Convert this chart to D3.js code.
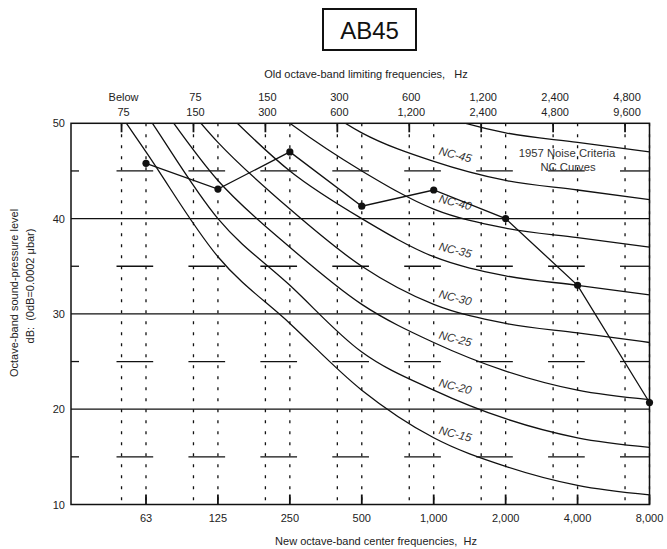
<!DOCTYPE html>
<html><head><meta charset="utf-8">
<script src="https://cdn.jsdelivr.net/npm/d3@7"></script>
<style>
html,body{margin:0;padding:0;background:#fff;}
svg{display:block;font-family:"Liberation Sans",Arial,Helvetica,sans-serif;}
</style></head><body>
<svg id="chart" width="667" height="549"></svg>
<script>
// ---------- data ----------
const centerLabels = ["63","125","250","500","1,000","2,000","4,000","8,000"];
const oldBandTop    = ["Below","75","150","300","600","1,200","2,400","4,800"];
const oldBandBottom = ["75","150","300","600","1,200","2,400","4,800","9,600"];
const yTicks = [10,20,30,40,50];
const yGridLines = [20,30,40];
const yMinorTicks = [15,25,35,45];

const ncNames = ["NC-15","NC-20","NC-25","NC-30","NC-35","NC-40","NC-45","NC-50"];
const nc15 = [47,36,29,22,17,14,12,11];
const nc20 = [51,40,33,26,22,19,17,16];
const nc25 = [54,44,37,31,27,24,22,21];
const nc30 = [57,48,41,35,31,29,28,27];
const nc35 = [60,52,45,40,36,34,33,32];
const nc40 = [64,56,50,45,41,39,38,37];
const nc45 = [67,60,54,49,46,44,43,42];
const nc50 = [71,64,58,54,51,49,48,47];
const ncLabelled = ["NC-15","NC-20","NC-25","NC-30","NC-35","NC-40","NC-45"];

const measured = [45.8,43.1,47.0,41.3,43.0,40.0,33.0,20.7];

const titleText = "AB45";
const topTitle = "Old octave-band limiting frequencies,   Hz";
const bottomTitle = "New octave-band center frequencies,  Hz";
const yTitle1 = "Octave-band sound-pressure level";
const yTitle2 = "dB:  (0dB=0.0002 \u03BCbar)";
const legend1 = "1957 Noise Criteria";
const legend2 = "NC Curves";

// ---------- layout ----------
const L = 71, R = 649.5, T = 123.3, B = 504.5;
const oldOff = -0.34;         // old band limit line offset (in octaves)
const svg = d3.select("#chart");
const x = d3.scaleLinear().domain([0,7]).range([146, R]);
const y = d3.scaleLinear().domain([10,50]).range([B, T]);
const idx = d3.range(centerLabels.length);
const ink = "#111", txt = "#222";

// title box
svg.append("rect").attr("x",323).attr("y",9).attr("width",93).attr("height",41)
  .attr("fill","none").attr("stroke",ink).attr("stroke-width",2);
svg.append("text").attr("x",369.5).attr("y",30).attr("text-anchor","middle")
  .attr("dominant-baseline","central").attr("font-size",24).attr("fill",ink).text(titleText);

// clip
svg.append("defs").append("clipPath").attr("id","plotclip")
  .append("rect").attr("x",L).attr("y",T).attr("width",R-L).attr("height",B-T);

const g = svg.append("g");

// vertical dotted lines (centers and old band limits)
idx.forEach(i => {
  [i, i+oldOff].forEach(t => {
    g.append("line").attr("x1",x(t)).attr("x2",x(t)).attr("y1",T).attr("y2",B)
      .attr("stroke",ink).attr("stroke-width",1.3).attr("stroke-dasharray","3,8");
  });
});

// horizontal grid lines
yGridLines.forEach(v => {
  g.append("line").attr("x1",L).attr("x2",R).attr("y1",y(v)).attr("y2",y(v))
    .attr("stroke",ink).attr("stroke-width",1.3);
});
// minor dashes
yMinorTicks.forEach(v => {
  g.append("line").attr("x1",L).attr("x2",L+8).attr("y1",y(v)).attr("y2",y(v))
    .attr("stroke",ink).attr("stroke-width",1.3);
  idx.forEach(i => {
    g.append("line").attr("x1",x(i-0.41)).attr("x2",Math.min(R,x(i+0.1)))
      .attr("y1",y(v)).attr("y2",y(v)).attr("stroke",ink).attr("stroke-width",1.3);
  });
});

// NC curves
const allNC = [nc15,nc20,nc25,nc30,nc35,nc40,nc45,nc50];
const line = d3.line().x(d=>x(d[0])).y(d=>y(d[1])).curve(d3.curveMonotoneX);
const cg = svg.append("g").attr("clip-path","url(#plotclip)");
allNC.forEach(arr => {
  const pts = arr.map((v,i)=>[i,v]);
  pts.unshift([-1, 2*arr[0]-arr[1]]);   // continue first segment to the frame
  cg.append("path").attr("d",line(pts)).attr("fill","none")
    .attr("stroke",ink).attr("stroke-width",1.3);
});

// NC labels
const labT = 4.3;
ncLabelled.forEach(name => {
  const arr = allNC[ncNames.indexOf(name)];
  const v = arr[4] + (labT-4)*(arr[5]-arr[4]) + 1.3;
  svg.append("text").attr("transform",`translate(${x(labT)},${y(v)}) rotate(14)`)
    .attr("text-anchor","middle").attr("dominant-baseline","central")
    .attr("font-size",11.5).attr("font-style","italic").attr("fill","#333").text(name);
});

// legend text
svg.append("text").attr("x",567).attr("y",152.5).attr("text-anchor","middle")
  .attr("dominant-baseline","central").attr("font-size",11.3).attr("fill","#333").text(legend1);
svg.append("text").attr("x",568).attr("y",167).attr("text-anchor","middle")
  .attr("dominant-baseline","central").attr("font-size",11.3).attr("fill","#333").text(legend2);

// measured data
const dline = d3.line().x((d,i)=>x(i)).y(d=>y(d));
svg.append("path").attr("d",dline(measured)).attr("fill","none")
  .attr("stroke",ink).attr("stroke-width",1.3);
svg.selectAll("circle.pt").data(measured).enter().append("circle")
  .attr("cx",(d,i)=>x(i)).attr("cy",d=>y(d)).attr("r",3.6).attr("fill",ink);

// frame
svg.append("rect").attr("x",L).attr("y",T).attr("width",R-L).attr("height",B-T)
  .attr("fill","none").attr("stroke",ink).attr("stroke-width",1.5);

// bottom ticks at centers, top ticks at old limits
idx.forEach(i => {
  svg.append("line").attr("x1",x(i)).attr("x2",x(i)).attr("y1",B).attr("y2",B-10)
    .attr("stroke",ink).attr("stroke-width",1.8);
  svg.append("line").attr("x1",x(i+oldOff)).attr("x2",x(i+oldOff)).attr("y1",T).attr("y2",T+9)
    .attr("stroke",ink).attr("stroke-width",1.8);
});

// y tick labels
yTicks.forEach(v => {
  svg.append("text").attr("x",65).attr("y",y(v)).attr("text-anchor","end")
    .attr("dominant-baseline","central").attr("font-size",11).attr("fill",txt).text(v);
});

// bottom labels
centerLabels.forEach((s,i) => {
  svg.append("text").attr("x",x(i)).attr("y",518).attr("text-anchor","middle")
    .attr("dominant-baseline","central").attr("font-size",11).attr("fill",txt).text(s);
});
// top labels
idx.forEach(i => {
  const cx = x(i+oldOff)+2;
  svg.append("text").attr("x",cx).attr("y",97).attr("text-anchor","middle")
    .attr("dominant-baseline","central").attr("font-size",11).attr("fill",txt).text(oldBandTop[i]);
  svg.append("text").attr("x",cx).attr("y",112).attr("text-anchor","middle")
    .attr("dominant-baseline","central").attr("font-size",11).attr("fill",txt).text(oldBandBottom[i]);
});

// axis titles
svg.append("text").attr("x",366).attr("y",73.5).attr("text-anchor","middle")
  .attr("dominant-baseline","central").attr("font-size",11).attr("fill",txt)
  .attr("xml:space","preserve").style("white-space","pre").text(topTitle);
svg.append("text").attr("x",376).attr("y",541).attr("text-anchor","middle")
  .attr("dominant-baseline","central").attr("font-size",11).attr("fill",txt)
  .style("white-space","pre").text(bottomTitle);
svg.append("text").attr("transform","translate(14,293) rotate(-90)").attr("text-anchor","middle")
  .attr("dominant-baseline","central").attr("font-size",11).attr("fill",txt).text(yTitle1);
svg.append("text").attr("transform","translate(30,286) rotate(-90)").attr("text-anchor","middle")
  .attr("dominant-baseline","central").attr("font-size",11).attr("fill",txt)
  .style("white-space","pre").text(yTitle2);
</script>
</body></html>
